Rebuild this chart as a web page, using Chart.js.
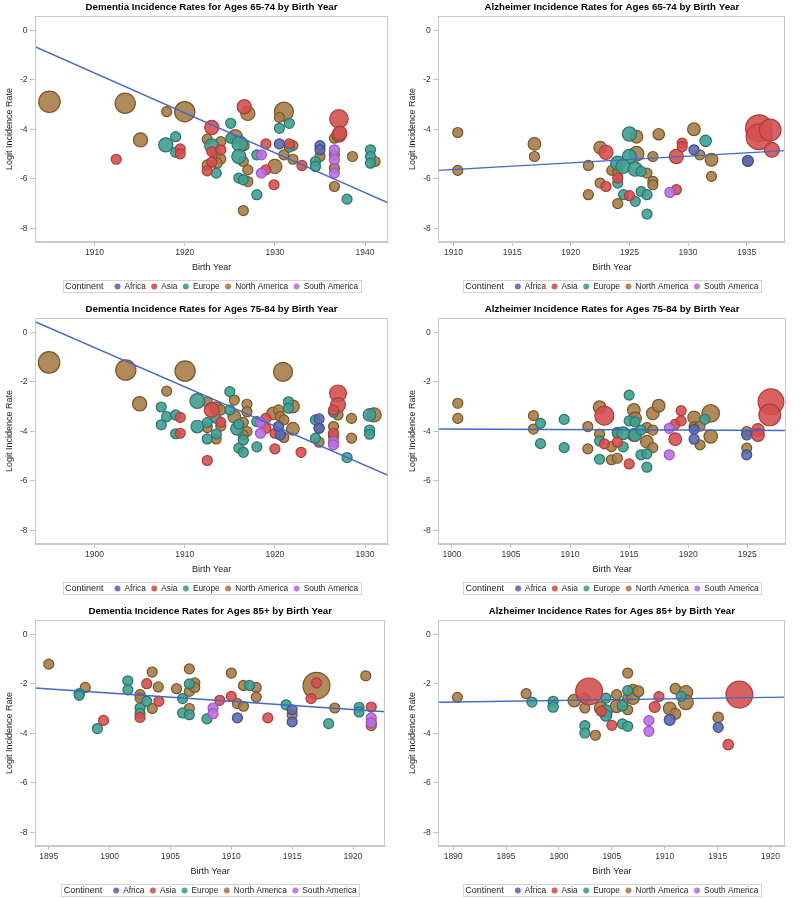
<!DOCTYPE html>
<html>
<head>
<meta charset="utf-8">
<script src="https://cdn.jsdelivr.net/npm/chart.js@4.4.0/dist/chart.umd.min.js"></script>
<style>
  html, body { margin: 0; padding: 0; background: #fff; overflow: hidden; }
  #wrap { position: relative; width: 800px; height: 898px; }
  canvas { position: absolute; }
</style>
</head>
<body>
<div id="wrap">
  <canvas id="c1" width="400" height="294" style="left:0;top:0"></canvas>
  <canvas id="c2" width="400" height="294" style="left:400px;top:0"></canvas>
  <canvas id="c3" width="400" height="294" style="left:0;top:302px"></canvas>
  <canvas id="c4" width="400" height="294" style="left:400px;top:302px"></canvas>
  <canvas id="c5" width="400" height="294" style="left:0;top:604px"></canvas>
  <canvas id="c6" width="400" height="294" style="left:400px;top:604px"></canvas>
</div>
<script>
// Points are [birth year, logit incidence rate, relative study size]
const continents = ['Africa', 'Asia', 'Europe', 'North America', 'South America'];
const yTicks = [0, -2, -4, -6, -8];

// Dementia 65-74
const dem65Years = [1910, 1920, 1930, 1940];
const dem65Africa = [[1930.5,-4.59,1],[1935.0,-4.66,1],[1935.0,-4.83,1]];
const dem65Asia = [[1912.4,-5.21,1],[1919.5,-4.79,1],[1919.5,-4.99,1],[1923.0,-3.93,2],[1923.0,-4.90,1],[1923.0,-5.33,1],[1922.5,-5.68,1],[1924.0,-4.83,1],[1926.6,-3.09,2],[1929.0,-4.59,1],[1929.0,-5.64,1],[1929.9,-6.24,1],[1931.6,-4.59,1],[1933.0,-5.46,1],[1937.1,-3.58,3.4],[1937.2,-4.16,2]];
const dem65Europe = [[1917.9,-4.63,2],[1919.0,-4.30,1],[1919.0,-4.93,1],[1923.0,-4.67,2],[1923.5,-5.77,1],[1925.1,-3.76,1],[1925.1,-4.36,1],[1926.1,-4.59,2.4],[1926.0,-5.10,2],[1926.0,-5.97,1],[1926.5,-6.04,1],[1928.0,-5.03,1],[1928.0,-6.64,1],[1930.5,-3.96,1],[1931.6,-3.76,1],[1931.6,-4.72,1],[1934.5,-5.30,1],[1934.5,-5.50,1],[1938.0,-6.82,1],[1940.6,-4.83,1],[1940.6,-5.10,1],[1940.6,-5.37,1]];
const dem65NorthAmerica = [[1905.0,-2.89,4.6],[1913.4,-2.95,4.1],[1918.0,-3.29,1],[1920.0,-3.29,4.1],[1915.1,-4.43,2],[1922.5,-4.40,1],[1922.5,-5.44,1],[1923.5,-5.03,1],[1924.0,-4.50,1],[1924.0,-5.20,1],[1923.6,-5.37,1],[1925.6,-4.30,2],[1927.0,-3.36,2],[1926.6,-4.66,1],[1926.5,-5.30,1],[1927.0,-5.64,1],[1927.0,-6.11,1],[1926.5,-7.28,1],[1930.0,-5.50,2],[1931.0,-3.29,3.6],[1930.5,-3.52,1],[1931.0,-5.03,1],[1932.0,-4.66,1],[1932.0,-5.21,1],[1935.0,-5.10,1],[1936.6,-4.36,1],[1937.1,-4.23,2],[1936.6,-5.03,1],[1936.6,-5.57,1],[1936.6,-6.31,1],[1938.6,-5.10,1],[1941.1,-5.30,1]];
const dem65SouthAmerica = [[1928.5,-5.03,1],[1928.5,-5.77,1],[1936.6,-4.83,1],[1936.6,-5.23,1],[1936.6,-5.77,1]];
const dem65Fit = [[1903.4,-0.67],[1942.55,-6.97]];

// Alzheimer 65-74
const alz65Years = [1910, 1915, 1920, 1925, 1930, 1935];
const alz65Africa = [[1930.5,-4.83,1],[1935.1,-5.27,1.2]];
const alz65Asia = [[1923.0,-4.93,2],[1923.0,-6.31,1],[1924.0,-5.97,1],[1925.0,-6.68,1],[1929.0,-5.10,2],[1929.5,-4.56,1],[1929.5,-4.70,1],[1929.0,-6.44,1],[1936.05,-3.96,7.2],[1936.05,-4.30,6.6],[1937.0,-4.03,4.7],[1937.15,-4.83,2.2]];
const alz65Europe = [[1925.0,-4.19,2],[1925.0,-5.10,2],[1924.0,-5.37,2],[1924.45,-5.50,2],[1924.0,-6.17,1],[1924.5,-6.64,1],[1925.5,-5.61,2],[1926.0,-5.70,1],[1925.5,-6.91,1],[1926.0,-6.51,1],[1926.5,-6.64,1],[1926.5,-7.42,1],[1931.5,-4.47,1.3]];
const alz65NorthAmerica = [[1910.36,-4.13,1],[1910.36,-5.66,1],[1916.9,-4.59,1.6],[1916.9,-5.10,1],[1921.5,-5.46,1],[1921.5,-6.64,1],[1922.5,-4.74,1.6],[1922.5,-6.17,1],[1923.5,-5.66,1],[1924.0,-5.73,1],[1924.0,-7.00,1],[1925.6,-4.30,1.6],[1925.6,-4.99,2.2],[1926.5,-5.77,1],[1927.0,-5.10,1],[1927.0,-6.10,1],[1927.0,-6.24,1],[1927.5,-4.20,1.3],[1930.5,-4.00,1.6],[1931.0,-5.03,1],[1932.0,-5.23,1.6],[1932.0,-5.90,1],[1935.1,-5.30,1]];
const alz65SouthAmerica = [[1928.45,-6.55,1]];
const alz65Fit = [[1908.7,-5.66],[1938.3,-4.86]];

// Dementia 75-84
const dem75Years = [1900, 1910, 1920, 1930];
const dem75Africa = [[1920.4,-3.81,1],[1920.6,-4.15,1],[1924.9,-3.50,1],[1924.9,-3.88,1]];
const dem75Asia = [[1909.5,-3.44,1],[1909.5,-4.08,1],[1913.0,-3.14,2.2],[1914.0,-3.64,1],[1912.5,-5.18,1],[1919.0,-3.48,1],[1919.0,-3.88,1],[1920.0,-4.08,1],[1920.0,-4.71,1],[1922.9,-4.85,1],[1927.0,-2.47,2.8],[1927.0,-2.94,2.2],[1926.5,-3.14,1],[1926.5,-4.08,1]];
const dem75Europe = [[1907.4,-3.02,1],[1908.0,-3.41,1],[1907.4,-3.74,1],[1909.0,-3.34,1],[1909.0,-4.10,1],[1911.4,-2.78,2.2],[1911.4,-3.81,1.6],[1912.5,-3.65,1],[1912.5,-4.31,1],[1913.5,-3.48,1],[1913.5,-4.11,1],[1915.0,-2.40,1],[1915.0,-3.14,1],[1915.8,-3.90,1.6],[1916.0,-3.72,1],[1916.0,-4.68,1],[1916.5,-4.35,1],[1916.5,-4.85,1],[1918.0,-3.61,1],[1918.0,-4.63,1],[1921.5,-2.81,1],[1921.5,-3.07,1],[1924.5,-3.54,1],[1924.5,-4.28,1],[1926.5,-3.23,1],[1928.0,-5.06,1],[1930.5,-3.34,1.6],[1930.5,-3.95,1],[1930.5,-4.12,1]];
const dem75NorthAmerica = [[1894.96,-1.22,4.6],[1903.47,-1.53,4.1],[1910.04,-1.57,4.1],[1908.0,-2.38,1],[1905.0,-2.89,2],[1912.5,-2.81,1],[1912.5,-3.85,1],[1913.5,-3.07,1.6],[1914.0,-3.14,1],[1914.0,-3.79,1],[1913.5,-4.31,1],[1915.5,-2.74,1],[1915.5,-3.41,1.6],[1916.9,-2.91,1],[1916.9,-3.21,1],[1916.5,-3.64,1],[1916.9,-4.01,1],[1916.5,-4.15,1],[1919.8,-3.28,1.6],[1920.4,-3.14,1],[1920.6,-3.41,1],[1920.9,-1.60,3.6],[1921.0,-3.54,1],[1921.0,-4.25,1],[1922.0,-3.00,1.6],[1922.0,-3.90,1.6],[1924.9,-4.44,1],[1924.9,-3.88,1],[1926.5,-3.81,1],[1926.5,-4.21,1],[1927.0,-3.34,1],[1928.5,-3.48,1],[1928.5,-4.28,1],[1931.0,-3.34,2]];
const dem75SouthAmerica = [[1918.4,-3.64,1],[1918.4,-4.08,1],[1926.5,-4.42,1],[1926.5,-4.55,1]];
const dem75Fit = [[1893.4,0.42],[1932.55,-5.78]];

// Alzheimer 75-84
const alz75Years = [1900, 1905, 1910, 1915, 1920, 1925];
const alz75Africa = [[1920.5,-3.92,1],[1920.5,-4.32,1],[1924.95,-4.15,1],[1924.95,-4.95,1]];
const alz75Asia = [[1912.9,-3.37,3.6],[1912.9,-4.51,1],[1914.0,-4.44,1],[1915.0,-5.32,1],[1918.9,-3.72,1],[1918.9,-4.32,1.6],[1919.4,-3.58,1],[1919.4,-3.17,1],[1925.9,-3.95,1.6],[1925.9,-4.15,1.6],[1927.0,-2.81,6.6],[1926.9,-3.34,4.7]];
const alz75Europe = [[1907.5,-3.68,1],[1907.5,-4.50,1],[1909.5,-3.52,1],[1909.5,-4.66,1],[1912.5,-4.39,1],[1912.5,-5.13,1],[1914.0,-4.08,1],[1914.5,-4.08,1.6],[1914.5,-4.63,1],[1915.0,-2.54,1],[1915.0,-3.58,1],[1915.5,-3.62,1],[1915.5,-4.15,1.6],[1916.0,-3.95,1],[1916.0,-4.95,1],[1916.5,-4.91,1],[1916.5,-5.45,1],[1921.4,-3.52,1]];
const alz75NorthAmerica = [[1900.5,-2.87,1],[1900.5,-3.48,1],[1906.9,-3.37,1],[1906.9,-3.91,1],[1911.5,-3.81,1],[1911.5,-4.71,1],[1912.5,-3.03,1.6],[1912.5,-4.11,1],[1913.5,-4.62,1],[1913.5,-5.15,1],[1914.0,-4.04,1],[1914.0,-5.09,1],[1915.4,-3.14,1.6],[1915.5,-3.48,1.6],[1915.4,-4.15,1.6],[1916.5,-3.85,1],[1916.5,-4.42,1.6],[1917.0,-3.28,1.6],[1917.0,-3.95,1],[1917.0,-4.66,1],[1917.5,-2.97,1.6],[1920.5,-3.44,1.6],[1920.5,-3.81,1],[1921.0,-3.79,1],[1921.0,-4.55,1],[1921.9,-3.28,3.1],[1921.9,-4.21,1.8],[1924.95,-4.01,1],[1924.95,-4.68,1]];
const alz75SouthAmerica = [[1918.4,-3.88,1],[1918.4,-4.95,1]];
const alz75Fit = [[1898.85,-3.91],[1928.27,-3.97]];

// Dementia 85+
const dem85Years = [1895, 1900, 1905, 1910, 1915, 1920];
const dem85Africa = [[1910.5,-3.38,1],[1915.0,-3.05,1],[1915.0,-3.54,1]];
const dem85Asia = [[1899.5,-3.48,1],[1903.05,-2.00,1],[1902.5,-3.36,1],[1904.05,-2.71,1],[1909.05,-2.67,1],[1910.0,-2.51,1],[1913.0,-3.38,1],[1916.55,-2.60,1],[1917.0,-1.97,1],[1921.5,-2.94,1]];
const dem85Europe = [[1897.5,-2.40,1],[1897.5,-2.47,1],[1899.0,-3.81,1],[1901.5,-1.88,1],[1901.5,-2.25,1],[1902.5,-2.98,1],[1902.5,-3.20,1],[1903.05,-2.71,1],[1906.0,-2.60,1],[1906.0,-3.18,1],[1906.55,-2.01,1],[1906.55,-3.25,1],[1908.0,-3.42,1],[1911.5,-2.07,1],[1914.5,-2.85,1],[1918.0,-3.61,1],[1920.5,-2.95,1],[1920.5,-3.14,1]];
const dem85NorthAmerica = [[1895.0,-1.21,1],[1898.0,-2.15,1],[1902.5,-2.44,1],[1902.5,-2.58,1],[1903.5,-1.53,1],[1903.5,-3.00,1],[1904.0,-2.13,1],[1905.5,-2.20,1],[1906.55,-1.40,1],[1906.55,-2.31,1],[1906.55,-3.00,1],[1907.0,-1.97,1],[1907.0,-2.15,1],[1910.0,-1.57,1],[1910.5,-2.80,1],[1911.0,-2.07,1],[1911.0,-2.91,1],[1912.05,-2.15,1],[1912.05,-2.54,1],[1917.0,-2.08,7.2],[1915.0,-3.25,1],[1918.5,-2.98,1],[1921.05,-1.68,1],[1921.5,-3.58,1],[1921.5,-3.69,1]];
const dem85SouthAmerica = [[1908.5,-2.98,1],[1908.5,-3.21,1],[1921.5,-3.38,1],[1921.5,-3.58,1]];
const dem85Fit = [[1893.87,-2.17],[1922.66,-3.13]];

// Alzheimer 85+
const alz85Years = [1890, 1895, 1900, 1905, 1910, 1915, 1920];
const alz85Africa = [[1910.47,-3.46,1.2],[1915.05,-3.76,1]];
const alz85Asia = [[1902.85,-2.31,7.2],[1904.0,-3.11,1],[1905.0,-3.68,1],[1909.05,-2.94,1.2],[1909.45,-2.52,1],[1917.05,-2.44,7.2],[1916.0,-4.46,1.1]];
const alz85Europe = [[1897.45,-2.74,1],[1899.45,-2.71,1],[1899.45,-2.94,1.1],[1902.45,-3.69,1],[1902.45,-3.99,1],[1904.45,-2.58,1],[1904.45,-3.11,1.6],[1904.45,-3.28,1.3],[1906.0,-2.89,1.1],[1906.0,-3.62,1],[1906.5,-3.72,1],[1906.5,-2.28,1],[1911.55,-2.51,1]];
const alz85NorthAmerica = [[1890.4,-2.55,1],[1896.9,-2.40,1],[1901.45,-2.68,1.6],[1902.45,-2.58,1],[1902.45,-2.98,1],[1903.95,-2.98,1.6],[1903.45,-4.08,1],[1905.45,-2.44,1],[1905.45,-2.91,1.6],[1906.5,-1.57,1],[1906.5,-2.58,1],[1906.5,-3.05,1],[1907.0,-2.24,1.1],[1907.0,-2.58,1.6],[1907.5,-2.31,1.2],[1910.47,-3.00,1.6],[1911.0,-3.22,1.2],[1911.0,-2.20,1.1],[1912.0,-2.35,1.8],[1912.0,-2.75,2.2],[1915.05,-3.36,1.1]];
const alz85SouthAmerica = [[1908.5,-3.49,1],[1908.5,-3.92,1]];
const alz85Fit = [[1888.6,-2.75],[1921.4,-2.54]];

// colours per continent (same order as continents)
const fills = ['rgba(92,106,172,0.9)', 'rgba(212,80,80,0.9)', 'rgba(64,158,146,0.9)', 'rgba(166,126,74,0.9)', 'rgba(188,112,226,0.9)'];
const edges = ['#3f4d8e', '#ad3b3b', '#2b746b', '#7a5427', '#9b55c4'];
const drawOrder = [2, 3, 4, 5, 1];
const fontFam = '"Liberation Sans", Arial, sans-serif';

const panels = [
  { id: 'c1', col: 0, title: 'Dementia Incidence Rates for Ages 65-74 by Birth Year', years: dem65Years, xMin: 1903.4, xMax: 1942.55,
    sets: [dem65Africa, dem65Asia, dem65Europe, dem65NorthAmerica, dem65SouthAmerica], fit: dem65Fit },
  { id: 'c2', col: 1, title: 'Alzheimer Incidence Rates for Ages 65-74 by Birth Year', years: alz65Years, xMin: 1908.7, xMax: 1938.3,
    sets: [alz65Africa, alz65Asia, alz65Europe, alz65NorthAmerica, alz65SouthAmerica], fit: alz65Fit },
  { id: 'c3', col: 0, title: 'Dementia Incidence Rates for Ages 75-84 by Birth Year', years: dem75Years, xMin: 1893.4, xMax: 1932.55,
    sets: [dem75Africa, dem75Asia, dem75Europe, dem75NorthAmerica, dem75SouthAmerica], fit: dem75Fit },
  { id: 'c4', col: 1, title: 'Alzheimer Incidence Rates for Ages 75-84 by Birth Year', years: alz75Years, xMin: 1898.85, xMax: 1928.27,
    sets: [alz75Africa, alz75Asia, alz75Europe, alz75NorthAmerica, alz75SouthAmerica], fit: alz75Fit },
  { id: 'c5', col: 0, title: 'Dementia Incidence Rates for Ages 85+ by Birth Year', years: dem85Years, xMin: 1893.87, xMax: 1922.66,
    sets: [dem85Africa, dem85Asia, dem85Europe, dem85NorthAmerica, dem85SouthAmerica], fit: dem85Fit },
  { id: 'c6', col: 1, title: 'Alzheimer Incidence Rates for Ages 85+ by Birth Year', years: alz85Years, xMin: 1888.6, xMax: 1921.4,
    sets: [alz85Africa, alz85Asia, alz85Europe, alz85NorthAmerica, alz85SouthAmerica], fit: alz85Fit }
];

// box round the plot area
const framePlugin = {
  id: 'frame',
  afterDraw(chart) {
    const a = chart.chartArea, ctx = chart.ctx;
    ctx.save();
    ctx.strokeStyle = '#c3cad2';
    ctx.lineWidth = 1;
    ctx.strokeRect(Math.round(a.left) + 0.5, Math.round(a.top) + 0.5, Math.round(a.right - a.left) - 1, Math.round(a.bottom - a.top) - 1);
    ctx.restore();
  }
};

// legend with "Continent" title in a single boxed row
const legendPlugin = {
  id: 'boxLegend',
  afterDraw(chart) {
    const ctx = chart.ctx, a = chart.chartArea;
    const cy = 286.5;
    ctx.save();
    ctx.font = '9px ' + fontFam;
    const titleW = ctx.measureText('Continent').width;
    ctx.font = '8.3px ' + fontFam;
    const widths = continents.map(c => ctx.measureText(c).width);
    let total = 2.5 + titleW;
    widths.forEach((w, i) => { total += (i === 0 ? 11 : 5.5) + 6 + 4 + w; });
    total += 2.5;
    let x = (a.left + a.right) / 2 - total / 2;
    ctx.strokeStyle = '#d3d3d3';
    ctx.lineWidth = 1;
    ctx.strokeRect(Math.round(x) + 0.5, 280.5, Math.round(total), 12);
    ctx.fillStyle = '#222';
    ctx.textBaseline = 'middle';
    ctx.font = '9px ' + fontFam;
    x += 2.5;
    ctx.fillText('Continent', x, cy + 0.5);
    x += titleW;
    ctx.font = '8.3px ' + fontFam;
    continents.forEach((c, i) => {
      x += (i === 0 ? 11 : 5.5);
      ctx.beginPath();
      ctx.arc(x + 3, cy, 3, 0, Math.PI * 2);
      ctx.fillStyle = fills[i];
      ctx.fill();
      x += 6 + 4;
      ctx.fillStyle = '#222';
      ctx.fillText(c, x, cy + 0.5);
      x += widths[i];
    });
    ctx.restore();
  }
};

panels.forEach(p => {
  const datasets = [{
    type: 'line',
    data: p.fit.map(d => ({ x: d[0], y: d[1] })),
    borderColor: '#4169c6',
    borderWidth: 1.4,
    pointRadius: 0,
    fill: false,
    order: 0
  }];
  continents.forEach((c, i) => {
    datasets.push({
      type: 'bubble',
      label: c,
      data: p.sets[i].map(d => ({ x: d[0], y: d[1], r: 5 * Math.sqrt(d[2]) })),
      backgroundColor: fills[i],
      borderColor: edges[i],
      borderWidth: 1.2,
      order: drawOrder[i]
    });
  });

  new Chart(document.getElementById(p.id), {
    type: 'bubble',
    data: { datasets: datasets },
    plugins: [framePlugin, legendPlugin],
    options: {
      responsive: false,
      animation: false,
      events: [],
      layout: { padding: { left: 0, top: 0, right: p.col === 0 ? 8 : 4.3, bottom: 18 } },
      plugins: {
        legend: { display: false },
        tooltip: { enabled: false },
        title: {
          display: true,
          text: p.title,
          fullSize: false,
          color: '#000',
          font: { family: fontFam, size: 9.7, weight: 'bold', lineHeight: 1.2 },
          padding: { top: 2, bottom: 2.4 }
        }
      },
      scales: {
        x: {
          type: 'linear',
          min: p.xMin,
          max: p.xMax,
          afterBuildTicks: s => { s.ticks = p.years.map(v => ({ value: v })); },
          afterFit: s => { s.height = 34; },
          grid: { drawOnChartArea: false, drawTicks: true, tickLength: 4, color: '#b9c1c9' },
          border: { display: true, color: '#c3cad2' },
          ticks: { color: '#333', padding: 2, maxRotation: 0, autoSkip: false,
                   font: { family: fontFam, size: 8.5 }, callback: v => String(v) },
          title: { display: true, text: 'Birth Year', color: '#222',
                   font: { family: fontFam, size: 9, lineHeight: 1.2 }, padding: { top: 0, bottom: 2.6 } }
        },
        y: {
          type: 'linear',
          min: -8.55,
          max: 0.57,
          afterBuildTicks: s => { s.ticks = yTicks.map(v => ({ value: v })); },
          afterFit: s => { s.width = p.col === 0 ? 35 : 38.3; },
          grid: { drawOnChartArea: false, drawTicks: true, tickLength: 5, color: '#b9c1c9' },
          border: { display: true, color: '#c3cad2' },
          ticks: { color: '#333', padding: 2.5, font: { family: fontFam, size: 8.5 }, callback: v => String(v) },
          title: { display: true, text: 'Logit Incidence Rate', color: '#222',
                   font: { family: fontFam, size: 9, lineHeight: 1.2 }, padding: { top: p.col === 0 ? 4 : 7.4, bottom: 0 } }
        }
      }
    }
  });
});
</script>
</body>
</html>
